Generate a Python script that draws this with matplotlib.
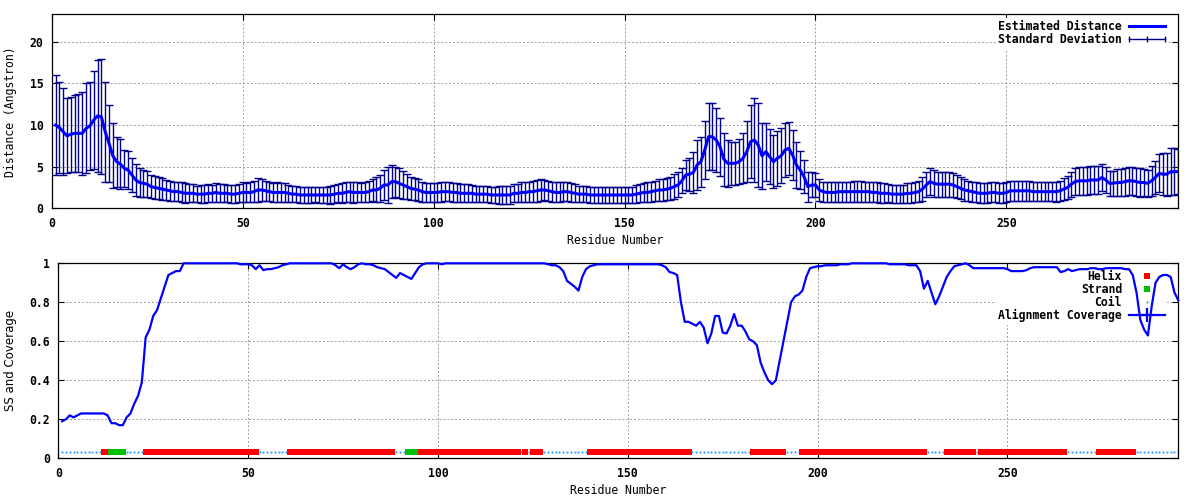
import numpy as np
import matplotlib
matplotlib.use('Agg')
import matplotlib.pyplot as plt
from matplotlib.lines import Line2D
from matplotlib.legend_handler import HandlerLine2D
from matplotlib.font_manager import FontProperties


# estimated distance (Angstrom) per residue, residues 1..295
distance = [
    10.0, 9.7, 9.2, 8.7, 8.9, 9.0, 9.0, 9.0, 9.6, 9.9,
    10.6, 11.1, 11.0, 9.2, 7.8, 6.3, 5.6, 5.3, 4.8, 4.6,
    4.0, 3.4, 3.1, 3.0, 2.9, 2.6, 2.5, 2.4, 2.3, 2.2,
    2.1, 2.0, 2.0, 1.9, 1.8, 1.8, 1.8, 1.7, 1.7, 1.7,
    1.8, 1.8, 1.9, 1.8, 1.8, 1.8, 1.7, 1.7, 1.8, 1.9,
    1.9, 1.9, 2.0, 2.2, 2.2, 2.1, 2.0, 1.9, 1.9, 1.9,
    1.9, 1.8, 1.7, 1.7, 1.6, 1.6, 1.6, 1.6, 1.6, 1.6,
    1.6, 1.6, 1.6, 1.7, 1.8, 1.8, 1.9, 2.0, 1.9, 1.9,
    1.9, 1.9, 2.0, 2.2, 2.2, 2.4, 2.8, 2.8, 3.2, 3.2,
    3.0, 2.8, 2.6, 2.4, 2.3, 2.2, 2.0, 1.9, 1.9, 1.9,
    1.9, 2.0, 2.0, 2.0, 1.9, 1.9, 1.8, 1.8, 1.8, 1.8,
    1.7, 1.7, 1.7, 1.7, 1.6, 1.6, 1.6, 1.6, 1.6, 1.6,
    1.8, 1.8, 1.9, 1.9, 2.0, 2.0, 2.1, 2.2, 2.2, 2.1,
    2.0, 1.9, 1.9, 2.0, 2.0, 1.9, 1.8, 1.7, 1.7, 1.7,
    1.6, 1.6, 1.6, 1.6, 1.6, 1.6, 1.6, 1.6, 1.6, 1.6,
    1.6, 1.6, 1.7, 1.8, 1.9, 1.9, 2.0, 2.1, 2.2, 2.2,
    2.3, 2.4, 2.6, 2.8, 3.3, 4.0, 4.1, 4.3, 5.2, 5.6,
    7.0, 8.6, 8.6, 8.2, 7.4, 5.9, 5.4, 5.4, 5.4, 5.6,
    6.0, 6.8, 8.0, 8.2, 7.6, 6.3, 6.8, 6.2, 5.6, 6.0,
    6.3, 7.0, 7.2, 6.4, 5.2, 4.6, 3.8, 2.6, 2.8, 2.8,
    2.2, 2.0, 1.9, 1.9, 1.9, 2.0, 2.0, 2.0, 2.0, 2.0,
    2.0, 2.0, 2.0, 2.0, 1.9, 1.9, 1.8, 1.8, 1.8, 1.7,
    1.7, 1.7, 1.7, 1.8, 1.8, 1.9, 2.0, 2.3, 2.8, 3.2,
    3.0, 2.9, 2.9, 2.9, 2.9, 2.8, 2.6, 2.4, 2.2, 2.1,
    2.0, 1.9, 1.8, 1.8, 1.8, 1.9, 1.9, 1.8, 1.8, 1.9,
    2.1, 2.1, 2.1, 2.1, 2.1, 2.1, 2.0, 2.0, 2.0, 2.0,
    2.0, 2.0, 2.0, 2.1, 2.3, 2.5, 2.9, 3.2, 3.3, 3.3,
    3.3, 3.4, 3.4, 3.4, 3.7, 3.4, 3.0, 3.0, 3.1, 3.1,
    3.2, 3.3, 3.3, 3.2, 3.1, 3.1, 3.0, 3.3, 3.7, 4.2,
    4.1, 4.1, 4.4, 4.4, 4.4,
]

# standard deviation per residue
std_dev = [
    6.0, 5.5, 5.2, 4.5, 4.5, 4.6, 4.7, 5.0, 5.4, 5.3,
    5.9, 6.7, 6.9, 6.0, 4.6, 3.9, 3.0, 3.0, 2.2, 2.3,
    2.0, 1.9, 1.7, 1.6, 1.6, 1.4, 1.4, 1.3, 1.3, 1.2,
    1.2, 1.1, 1.1, 1.2, 1.2, 1.1, 1.1, 1.0, 1.1, 1.1,
    1.1, 1.0, 1.1, 1.1, 1.1, 1.0, 1.1, 1.1, 1.1, 1.2,
    1.1, 1.2, 1.3, 1.4, 1.3, 1.2, 1.1, 1.1, 1.2, 1.1,
    1.1, 1.0, 1.0, 1.0, 1.0, 1.0, 1.0, 1.0, 0.9, 1.0,
    1.0, 1.0, 1.1, 1.1, 1.1, 1.2, 1.2, 1.2, 1.3, 1.2,
    1.1, 1.2, 1.3, 1.3, 1.5, 1.6, 1.8, 2.2, 2.0, 1.8,
    1.8, 1.7, 1.5, 1.4, 1.3, 1.3, 1.2, 1.1, 1.1, 1.1,
    1.1, 1.2, 1.1, 1.1, 1.1, 1.1, 1.1, 1.1, 1.1, 1.0,
    1.0, 1.0, 1.0, 1.0, 1.0, 1.0, 1.1, 1.1, 1.1, 1.1,
    1.1, 1.1, 1.2, 1.2, 1.2, 1.3, 1.3, 1.3, 1.2, 1.2,
    1.2, 1.2, 1.2, 1.1, 1.1, 1.1, 1.1, 1.0, 1.0, 1.0,
    1.0, 1.0, 1.0, 1.0, 1.0, 1.0, 1.0, 1.0, 1.0, 1.0,
    1.0, 1.0, 1.1, 1.1, 1.1, 1.2, 1.2, 1.2, 1.3, 1.3,
    1.3, 1.4, 1.5, 1.5, 1.5, 1.8, 2.0, 2.5, 3.0, 3.0,
    3.5, 4.0, 4.0, 3.8, 3.5, 3.2, 2.8, 2.6, 2.6, 2.7,
    3.0, 3.7, 4.4, 5.0, 5.0, 4.0, 3.5, 3.3, 3.2, 3.3,
    3.3, 3.2, 3.2, 3.0, 2.8, 2.3, 2.0, 1.8, 1.5, 1.4,
    1.3, 1.2, 1.2, 1.2, 1.2, 1.2, 1.2, 1.2, 1.2, 1.3,
    1.3, 1.3, 1.2, 1.2, 1.2, 1.2, 1.2, 1.2, 1.1, 1.1,
    1.1, 1.1, 1.1, 1.2, 1.2, 1.2, 1.3, 1.4, 1.5, 1.6,
    1.6, 1.5, 1.5, 1.5, 1.5, 1.4, 1.4, 1.3, 1.3, 1.2,
    1.2, 1.2, 1.2, 1.2, 1.2, 1.2, 1.2, 1.2, 1.2, 1.2,
    1.2, 1.2, 1.2, 1.2, 1.2, 1.2, 1.1, 1.1, 1.1, 1.1,
    1.1, 1.1, 1.2, 1.2, 1.3, 1.4, 1.5, 1.6, 1.7, 1.7,
    1.7, 1.7, 1.7, 1.7, 1.6, 1.6, 1.5, 1.5, 1.6, 1.6,
    1.7, 1.7, 1.7, 1.7, 1.7, 1.6, 1.6, 1.8, 2.0, 2.3,
    2.5, 2.6, 2.8, 2.8, 2.7,
]

# alignment coverage per residue
coverage = [
    0.19, 0.20, 0.22, 0.21, 0.22, 0.23, 0.23, 0.23, 0.23, 0.23,
    0.23, 0.23, 0.22, 0.18, 0.18, 0.17, 0.17, 0.21, 0.23, 0.28,
    0.32, 0.39, 0.62, 0.66, 0.73, 0.76, 0.82, 0.88, 0.94, 0.95,
    0.96, 0.96, 1.0, 1.0, 1.0, 1.0, 1.0, 1.0, 1.0, 1.0,
    1.0, 1.0, 1.0, 1.0, 1.0, 1.0, 1.0, 0.995, 0.995, 0.995,
    0.99, 0.97, 0.99, 0.965, 0.97, 0.97, 0.975, 0.98, 0.99, 0.995,
    1.0, 1.0, 1.0, 1.0, 1.0, 1.0, 1.0, 1.0, 1.0, 1.0,
    1.0, 1.0, 0.99, 0.975, 0.995, 0.98, 0.97, 0.98, 0.995, 1.0,
    0.995, 0.995, 0.99, 0.98, 0.975, 0.97, 0.955, 0.94, 0.925, 0.95,
    0.94, 0.93, 0.92, 0.95, 0.98, 0.995, 1.0, 1.0, 1.0, 1.0,
    0.995, 1.0, 1.0, 1.0, 1.0, 1.0, 1.0, 1.0, 1.0, 1.0,
    1.0, 1.0, 1.0, 1.0, 1.0, 1.0, 1.0, 1.0, 1.0, 1.0,
    1.0, 1.0, 1.0, 1.0, 1.0, 1.0, 1.0, 1.0, 0.995, 0.99,
    0.99, 0.98, 0.96, 0.91, 0.895, 0.88, 0.86, 0.93, 0.97, 0.985,
    0.99, 0.995, 0.995, 0.995, 0.995, 0.995, 0.995, 0.995, 0.995, 0.995,
    0.995, 0.995, 0.995, 0.995, 0.995, 0.995, 0.995, 0.995, 0.99, 0.98,
    0.955, 0.95, 0.94, 0.80, 0.70, 0.70, 0.69, 0.68, 0.70, 0.67,
    0.59, 0.64, 0.73, 0.73, 0.645, 0.64, 0.68, 0.74, 0.68, 0.68,
    0.65, 0.61, 0.60, 0.58, 0.49, 0.44, 0.40, 0.38, 0.40, 0.50,
    0.60, 0.70, 0.80, 0.83, 0.84, 0.86, 0.93, 0.975, 0.98, 0.985,
    0.985, 0.99, 0.99, 0.99, 0.99, 0.995, 0.995, 0.995, 1.0, 1.0,
    1.0, 1.0, 1.0, 1.0, 1.0, 1.0, 1.0, 1.0, 0.995, 0.995,
    0.995, 0.995, 0.995, 0.99, 0.99, 0.99, 0.96, 0.87, 0.91, 0.85,
    0.79, 0.83, 0.88, 0.93, 0.96, 0.985, 0.99, 0.995, 1.0, 0.99,
    0.975, 0.975, 0.975, 0.975, 0.975, 0.975, 0.975, 0.975, 0.975, 0.97,
    0.96, 0.96, 0.96, 0.96, 0.965, 0.975, 0.98, 0.98, 0.98, 0.98,
    0.98, 0.98, 0.98, 0.955, 0.96, 0.97, 0.96, 0.965, 0.97, 0.97,
    0.97, 0.975, 0.975, 0.97, 0.97, 0.975, 0.975, 0.975, 0.975, 0.975,
    0.97, 0.97, 0.94, 0.85, 0.71, 0.66, 0.63, 0.78, 0.90, 0.93,
    0.94, 0.94, 0.93, 0.85, 0.81,
]

# secondary structure segments (first, last residue); the rest is coil
helix_ranges = [(12, 13), (23, 52), (61, 88), (95, 121), (123, 123),
                (125, 127), (140, 166), (183, 191), (196, 228),
                (234, 241), (243, 265), (274, 283)]
strand_ranges = [(14, 17), (92, 94)]
ss_level = 0.03

x_ticks = [0, 50, 100, 150, 200, 250]
dist_ticks = [0, 5, 10, 15, 20]
cov_ticks = [0, 0.2, 0.4, 0.6, 0.8, 1]
cov_labels = ['0', '0.2', '0.4', '0.6', '0.8', '1']

residues = np.arange(1, len(distance) + 1)

plt.rcParams['font.family'] = 'DejaVu Sans Mono'
plt.rcParams['font.weight'] = 'bold'
plt.rcParams['font.size'] = 8.3
mono = FontProperties(family='DejaVu Sans Mono', weight='bold', size=8.3)


def style_axes(ax):
    """ gnuplot-like frame: inward ticks on all sides and a dotted grid"""
    ax.set_xlim(0, 295)
    ax.set_xticks(x_ticks)
    ax.tick_params(direction='in', length=4, width=0.8, top=True,
                   right=True, pad=6, labelsize=8.3)
    ax.grid(True, color='#a0a0a0', lw=0.7, linestyle=(0, (2, 2)))
    for sp in ax.spines.values():
        sp.set_linewidth(0.9)
    ax.set_xlabel('Residue Number', labelpad=3)


def add_legend(ax, handles, labels, anchor, handler_map=None):
    """ borderless white legend, text right-aligned before the sample"""
    leg = ax.legend(handles, labels, handler_map=handler_map,
                    loc='upper right', bbox_to_anchor=anchor, prop=mono,
                    markerfirst=False, fancybox=False, edgecolor='none',
                    facecolor='white', framealpha=1, borderpad=0.2,
                    borderaxespad=0, labelspacing=0.0, handlelength=3.1,
                    handletextpad=0.6)
    leg.set_zorder(2.5)
    return leg


fig = plt.figure(figsize=(12, 5), dpi=100)

# top panel: estimated distance with error bars
ax1 = fig.add_axes([0.0431, 0.5834, 0.9388, 0.388])
ax1.errorbar(residues, distance, yerr=std_dev, fmt='none', ecolor='#00008b',
             elinewidth=1, capsize=3, capthick=1)
ax1.plot(residues, distance, color='#0000ff', lw=2.2)
ax1.set_ylim(0, 23.3)
ax1.set_yticks(dist_ticks)
style_axes(ax1)
ax1.set_ylabel('Distance (Angstron)', labelpad=9)

sd_handle = Line2D([], [], color='#00008b', lw=1, marker='|', ms=4.5, mew=1)
top_handles = [Line2D([], [], color='#0000ff', lw=2.2), sd_handle]
add_legend(ax1, top_handles, ['Estimated Distance', 'Standard Deviation'],
           (0.990, 0.980),
           handler_map={sd_handle: HandlerLine2D(numpoints=3, marker_pad=0)})

# bottom panel: secondary structure and alignment coverage
ax2 = fig.add_axes([0.0486, 0.0834, 0.9333, 0.39])

helix = np.zeros(len(residues), dtype=bool)
strand = np.zeros(len(residues), dtype=bool)
for a, b in helix_ranges:
    helix[(residues >= a) & (residues <= b)] = True
for a, b in strand_ranges:
    strand[(residues >= a) & (residues <= b)] = True
coil = ~(helix | strand)

ax2.plot(residues[coil], np.full(coil.sum(), ss_level), ls='none',
         marker='s', ms=1.3, color='#1e90ff', mew=0)
ax2.plot(residues[helix], np.full(helix.sum(), ss_level), ls='none',
         marker='s', ms=3.8, color='#ff0000', mew=0)
ax2.plot(residues[strand], np.full(strand.sum(), ss_level), ls='none',
         marker='s', ms=5.0, color='#00c000', mew=0)
ax2.plot(residues, coverage, color='#0000ff', lw=1.6, clip_on=False,
         zorder=3)

ax2.set_ylim(0, 1)
ax2.set_yticks(cov_ticks)
ax2.set_yticklabels(cov_labels)
style_axes(ax2)
ax2.set_ylabel('SS and Coverage', family='DejaVu Sans', weight='normal',
               fontsize=8.5, labelpad=9)

bottom_handles = [
    Line2D([], [], ls='none', marker='s', ms=3.8, color='#ff0000', mew=0),
    Line2D([], [], ls='none', marker='s', ms=5.0, color='#00c000', mew=0),
    Line2D([], [], ls='none', marker='s', ms=1.3, color='#1e90ff', mew=0),
    Line2D([], [], color='#0000ff', lw=1.6, marker='+', ms=9.5, mew=1.6),
]
add_legend(ax2, bottom_handles,
           ['Helix', 'Strand', 'Coil', 'Alignment Coverage'], (0.990, 0.976))

plt.savefig('out.png', dpi=100)
